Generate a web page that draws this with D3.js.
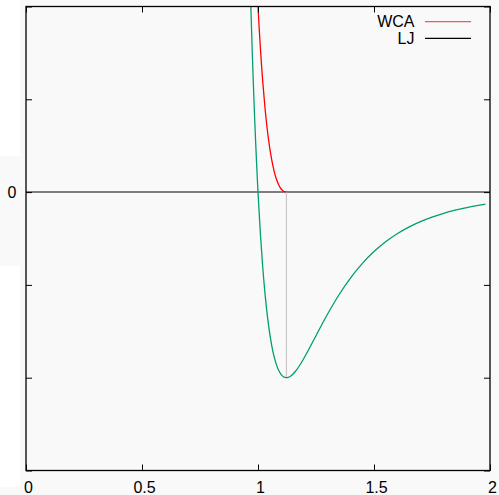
<!DOCTYPE html>
<html>
<head>
<meta charset="utf-8">
<script src="https://cdn.jsdelivr.net/npm/d3@7/dist/d3.min.js"></script>
<style>
  html, body { margin: 0; padding: 0; background: #f9f9f9; }
  svg { display: block; }
  text { font-family: "Liberation Sans", Arial, Helvetica, sans-serif; font-size: 16px; fill: #000; }
</style>
</head>
<body>
<svg id="chart" width="499" height="495"></svg>
<script>
// Lennard-Jones potential (sigma = 1, epsilon = 1), sampled r and V(r)
const ljR = [0.969, 0.975, 0.98, 0.985, 0.99, 0.995, 1.00, 1.01, 1.02, 1.03, 1.04, 1.05, 1.06,
             1.07, 1.08, 1.09, 1.10, 1.11, 1.12, 1.1225, 1.13, 1.14, 1.16, 1.18, 1.20, 1.25,
             1.30, 1.35, 1.40, 1.45, 1.50, 1.55, 1.60, 1.65, 1.70, 1.75, 1.80, 1.85, 1.90,
             1.95, 1.98];
const ljV = [1.005, 0.7639, 0.5819, 0.4157, 0.2641, 0.1259, 0.0, -0.2184, -0.3979, -0.5444,
             -0.6629, -0.7575, -0.8320, -0.8893, -0.9322, -0.9629, -0.9834, -0.9952, -0.9998,
             -1.0, -0.9985, -0.9921, -0.9679, -0.9329, -0.8910, -0.7737, -0.6570, -0.5516,
             -0.4607, -0.3841, -0.3203, -0.2677, -0.2242, -0.1884, -0.1589, -0.1344, -0.1142,
             -0.0973, -0.0832, -0.0714, -0.0653];

// WCA potential: LJ shifted by +epsilon and cut at the minimum
const wcaR = [1.00, 1.005, 1.01, 1.015, 1.02, 1.03, 1.04, 1.05, 1.06, 1.07, 1.08, 1.09, 1.10, 1.11, 1.1225];
const wcaV = [1.0, 0.8856, 0.7816, 0.6874, 0.6021, 0.4556, 0.3371, 0.2425, 0.1680, 0.1107,
              0.0678, 0.0371, 0.0166, 0.0048, 0.0];

// position of the LJ minimum, r = 2^(1/6)
const rMin = 1.1225;
const vMin = -1.0;

const xTicks = [0, 0.5, 1, 1.5, 2];
const xTickLabels = ["0", "0.5", "1", "1.5", "2"];
const yTicks = [-1.5, -1, -0.5, 0, 0.5, 1];
const yTickLabels = ["", "", "", "0", "", ""];

const legendNames = ["WCA", "LJ"];
const legendColors = ["#ff0000", "#000000"];

const svg = d3.select("#chart");

// light patches in the left margin
svg.append("rect").attr("x", 0).attr("y", 0).attr("width", 20).attr("height", 156).attr("fill", "#ffffff");
svg.append("rect").attr("x", 0).attr("y", 266).attr("width", 20).attr("height", 221).attr("fill", "#ffffff");

const plotLeft = 26, plotRight = 490, plotTop = 6.5, plotBottom = 470.5;
const x = d3.scaleLinear().domain([0, 2]).range([plotLeft, plotRight]);
const y = d3.scaleLinear().domain([-1.5, 1]).range([plotBottom, plotTop]);

svg.append("clipPath").attr("id", "plot-clip")
  .append("rect").attr("x", plotLeft).attr("y", plotTop)
  .attr("width", plotRight - plotLeft).attr("height", plotBottom - plotTop);

const plot = svg.append("g").attr("clip-path", "url(#plot-clip)");

// zero axis
plot.append("line")
  .attr("x1", x(0)).attr("x2", x(2))
  .attr("y1", y(0)).attr("y2", y(0))
  .attr("stroke", "#555").attr("stroke-width", 1.5);

// marker from the zero line down to the minimum
plot.append("line")
  .attr("x1", x(rMin)).attr("x2", x(rMin))
  .attr("y1", y(0)).attr("y2", y(vMin))
  .attr("stroke", "#c8c8c8").attr("stroke-width", 1.2);

const line = d3.line()
  .x(d => x(d[0]))
  .y(d => y(d[1]))
  .curve(d3.curveMonotoneX);

plot.append("path")
  .datum(ljR.map((r, i) => [r, ljV[i]]))
  .attr("d", line)
  .attr("fill", "none")
  .attr("stroke", "#009e73")
  .attr("stroke-width", 1.3);

plot.append("path")
  .datum(wcaR.map((r, i) => [r, wcaV[i]]))
  .attr("d", line)
  .attr("fill", "none")
  .attr("stroke", legendColors[0])
  .attr("stroke-width", 1.3);

// axes: inward ticks on all four sides, mirrored
const tickLen = 6;
const axes = svg.append("g");

axes.append("g")
  .attr("transform", `translate(0,${plotBottom})`)
  .call(d3.axisBottom(x).tickValues(xTicks).tickSize(-tickLen).tickPadding(8)
    .tickFormat((d, i) => xTickLabels[i]))
  .call(g => g.select(".domain").remove())
  .call(g => g.selectAll("text").attr("dx", 2).attr("dy", 0).attr("y", 22));

axes.append("g")
  .attr("transform", `translate(0,${plotTop})`)
  .call(d3.axisTop(x).tickValues(xTicks).tickSize(-tickLen).tickFormat(""))
  .call(g => g.select(".domain").remove());

axes.append("g")
  .attr("transform", `translate(${plotLeft},0)`)
  .call(d3.axisLeft(y).tickValues(yTicks).tickSize(-tickLen).tickPadding(10)
    .tickFormat((d, i) => yTickLabels[i]))
  .call(g => g.select(".domain").remove())
  .call(g => g.selectAll("text").attr("x", -9.5));

axes.append("g")
  .attr("transform", `translate(${plotRight},0)`)
  .call(d3.axisRight(y).tickValues(yTicks).tickSize(-tickLen).tickFormat(""))
  .call(g => g.select(".domain").remove());

axes.selectAll(".tick line").attr("stroke", "#000").attr("stroke-width", 1);
axes.selectAll("text").style("font-family", "'Liberation Sans', Arial, sans-serif").style("font-size", "16px").attr("fill", "#000");

// frame
svg.append("rect")
  .attr("x", plotLeft).attr("y", plotTop)
  .attr("width", plotRight - plotLeft).attr("height", plotBottom - plotTop)
  .attr("fill", "none").attr("stroke", "#000").attr("stroke-width", 1.3);

// legend
const legend = svg.append("g");
legendNames.forEach((name, i) => {
  const ly = 21.7 + i * 16.7;
  legend.append("text")
    .attr("x", 414.5).attr("y", ly + 5.6)
    .attr("text-anchor", "end")
    .text(name);
  legend.append("line")
    .attr("x1", 425).attr("x2", 471)
    .attr("y1", ly).attr("y2", ly)
    .attr("stroke", legendColors[i])
    .attr("stroke-width", 1.2)
    .attr("opacity", i === 0 ? 0.65 : 1);
});
</script>
</body>
</html>
